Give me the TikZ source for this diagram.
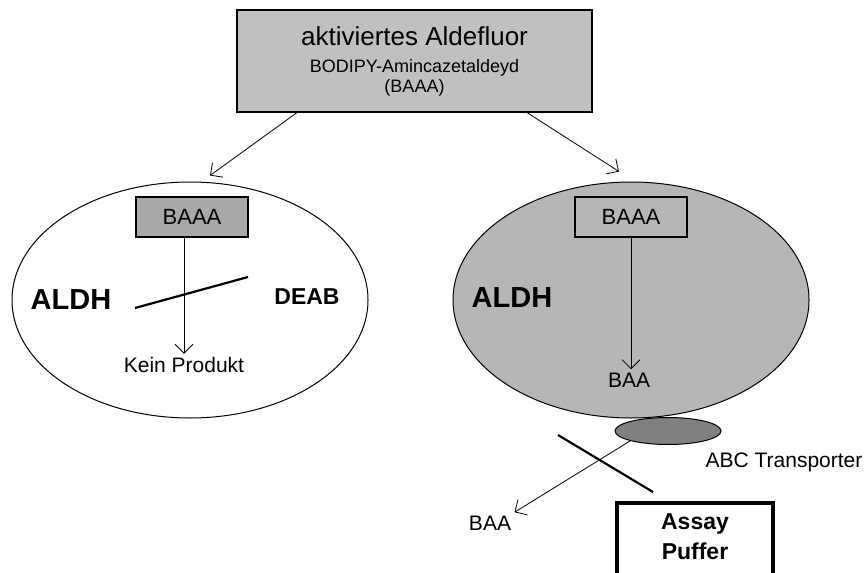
\documentclass[tikz,border=0pt]{standalone}
\usepackage{fontspec}
\setmainfont{Liberation Sans}
\usetikzlibrary{arrows.meta,positioning,shapes.geometric,calc}
\definecolor{boxgrau}{HTML}{C0C0C0}
\definecolor{baaagrau}{HTML}{A8A8A8}
\definecolor{zellgrau}{HTML}{B6B6B6}
\definecolor{abcgrau}{HTML}{808080}

\begin{document}
\begin{tikzpicture}[x=1pt, y=-1pt,
  kasten/.style={draw, line width=1.2pt, inner sep=0pt},
  zelle/.style={ellipse, draw, line width=1pt, inner sep=0pt,
                minimum width=356, minimum height=236},
  arr/.style={-{Straight Barb[length=9pt, width=18pt]}, line width=0.8pt},
  sperre/.style={line width=2.2pt},
  txt/.style={font=\fontsize{21}{24}\selectfont},
  fett/.style={font=\bfseries\fontsize{29}{32}\selectfont, inner sep=0pt}
]
  \useasboundingbox (0,0) rectangle (866,572);

  % Substrat
  \node[kasten, fill=boxgrau, minimum width=355, minimum height=102, align=center,
        font=\fontsize{18}{20}\selectfont] (aldefluor) at (414.5,61)
        {{\fontsize{26}{27}\selectfont aktiviertes Aldefluor}\\[7pt]BODIPY-Amincazetaldeyd\\(BAAA)};

  % Zelle mit DEAB
  \node[zelle] (zelle1) at (190,300) {};
  \node[kasten, fill=baaagrau, minimum width=112, minimum height=40, txt,
        font=\fontsize{22}{24}\selectfont] (baaa1) at (192,217) {BAAA};
  \node[txt] (kein) at (184,365) {Kein Produkt};
  \node[fett] (aldh1) at (71,300) {ALDH};
  \node[fett, font=\bfseries\fontsize{23}{26}\selectfont] (deab) at (307,297) {DEAB};

  \draw[arr] (baaa1.south -| kein) -- (kein.north);
  \draw[sperre] (135,308) -- (248,277);

  % Zelle ohne DEAB
  \node[zelle, fill=zellgrau] (zelle2) at (631,300) {};
  \node[kasten, fill=zellgrau, minimum width=112, minimum height=40, txt,
        font=\fontsize{22}{24}\selectfont] (baaa2) at (631,217) {BAAA};
  \node[txt] (baa1) at (629,380) {BAA};
  \node[fett] (aldh2) at (512,298) {ALDH};

  \draw[arr] (baaa2.south) -- (baaa2.south |- baa1.north);

  % Aufteilung
  \draw[arr] ([xshift=-117.5pt]aldefluor.south) -- ([xshift=20pt, yshift=6pt]zelle1.north);
  \draw[arr] ([xshift=112.5pt]aldefluor.south) -- ([xshift=-12pt, yshift=10pt]zelle2.north);

  % Transporter
  \node[zelle, fill=abcgrau, minimum width=106, minimum height=27] (abc) at (668,431) {};
  \node[txt] (abctext) at (784,462) {ABC Transporter};
  \node[txt] (baa2) at (490,523) {BAA};
  \node[draw, line width=3.5pt, minimum width=156, minimum height=80, align=center,
        font=\bfseries\fontsize{23}{30}\selectfont, text depth=12pt] (puffer) at (695,543) {Assay\\Puffer};

  \draw[arr] (abc.south west) -- (baa2.north east);
  \draw[sperre] (558,435) -- (653,492);
\end{tikzpicture}
\end{document}
